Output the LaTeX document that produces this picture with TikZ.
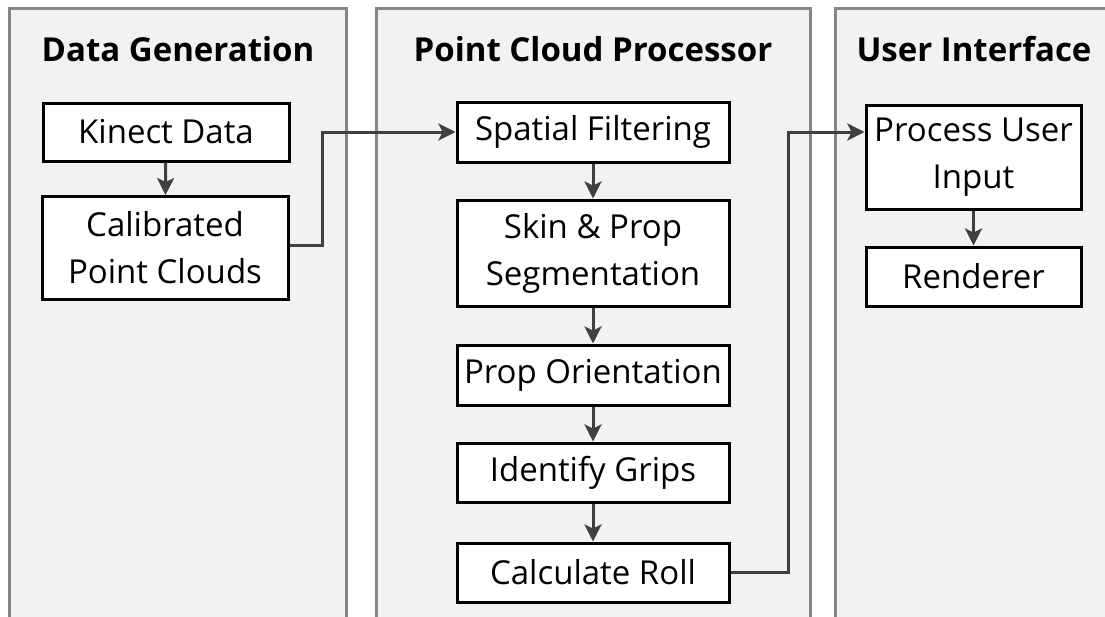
\documentclass[tikz,border=0pt]{standalone}
\usepackage{fontspec}
\setmainfont{Open Sans}
\usepackage{tikz}
\usetikzlibrary{arrows.meta}
\definecolor{panelgray}{HTML}{F2F2F2}
\definecolor{edgegray}{HTML}{868686}
\definecolor{linegray}{HTML}{404040}
\tikzstyle{panel} = [draw=edgegray, line width=3pt, fill=panelgray]
\tikzstyle{title} = [anchor=base, font=\fontsize{33}{40}\selectfont\bfseries]
\tikzstyle{blk} = [rectangle, draw=black, line width=3pt, fill=white, inner sep=0pt, align=center, font=\fontsize{33}{47}\selectfont]
\tikzstyle{conn} = [line width=3pt, draw=linegray, -{Stealth[length=17pt,width=17pt,inset=4pt]}]

\begin{document}
\begin{tikzpicture}[x=1pt,y=-1pt]
    \useasboundingbox (0,0) rectangle (1105,616);
    \clip (0,0) rectangle (1105,616);
    \fill[white] (0,0) rectangle (1105,616);
    % panels
    \draw[panel] (9.5,8) rectangle (346.5,640);
    \draw[panel] (376,8) rectangle (810,640);
    \draw[panel] (835,8) rectangle (1130,640);
    \node (tData) [title] at (178,61) {Data Generation};
    \node (tProc) [title] at (593,61) {Point Cloud Processor};
    \node (tUser) [title] at (974,61) {User Interface};
    % data generation
    \node (Kinect) [blk, minimum width=246pt, minimum height=58pt] at (166,132) {Kinect Data};
    \node (Calib) [blk, minimum width=246pt, minimum height=103pt] at (165,248) {Calibrated\\Point Clouds};
    % point cloud processor
    \node (Spatial) [blk, minimum width=272pt, minimum height=60pt] at (593,132) {Spatial Filtering};
    \node (Segment) [blk, minimum width=272pt, minimum height=106pt] at (593,253) {Skin \& Prop\\Segmentation};
    \node (Orient) [blk, minimum width=272pt, minimum height=60pt] at (593,375) {Prop Orientation};
    \node (Grips) [blk, minimum width=272pt, minimum height=59pt] at (593,472.5) {Identify Grips};
    \node (Roll) [blk, minimum width=272pt, minimum height=59pt] at (593,572.5) {Calculate Roll};
    % user interface
    \node (Input) [blk, minimum width=215pt, minimum height=104pt] at (973.5,157) {Process User\\Input};
    \node (Render) [blk, minimum width=215pt, minimum height=59pt] at (973.5,276.5) {Renderer};
    \draw[conn] (Kinect) -- (Calib);
    \draw[conn] ([yshift=3pt]Calib.east) -- ++(33,0) |- (Spatial.west);
    \draw[conn] (Spatial) -- (Segment);
    \draw[conn] (Segment) -- (Orient);
    \draw[conn] (Orient) -- (Grips);
    \draw[conn] (Grips) -- (Roll);
    \draw[conn] (Roll.east) -- ++(58,0) |- ([yshift=25pt]Input.west);
    \draw[conn] (Input) -- (Render);
\end{tikzpicture}
\end{document}
